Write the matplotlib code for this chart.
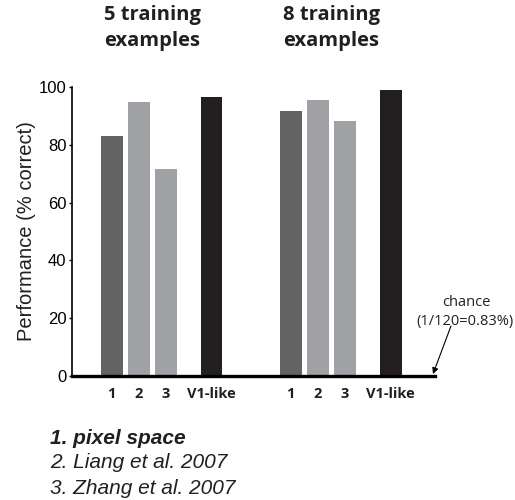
import matplotlib
matplotlib.use("Agg")
import matplotlib.pyplot as plt

groups = ["5 training\nexamples", "8 training\nexamples"]
categories = ["1", "2", "3", "V1-like"]
values_5 = [83.0, 94.8, 71.6, 96.5]
values_8 = [91.7, 95.5, 88.2, 99.0]
colors = ["#636366", "#a0a1a5", "#a0a1a5", "#231f20"]
legend_lines = ["1. pixel space", "2. Liang et al. 2007", "3. Zhang et al. 2007"]
yticks = [0, 20, 40, 60, 80, 100]

W, H = 515, 500
fig = plt.figure(figsize=(W/100, H/100), dpi=100)
ax = fig.add_axes([72/W, 1-376/H, (435-72)/W, (376-87)/H])

offsets = [0, 1, 2, 3.7]
group_starts = [0, 6.63]
xs, labels = [], []
for g, vals in zip(group_starts, [values_5, values_8]):
    for o, v, c, lab in zip(offsets, vals, colors, categories):
        ax.bar(g + o, v, width=0.8, color=c, edgecolor="none")
        xs.append(g + o)
        labels.append(lab)

ax.set_xlim(-1.47, 11.97)
ax.set_ylim(0, 100)
ax.set_xticks(xs)
ax.set_xticklabels(labels, fontfamily="Open Sans", fontweight="bold", fontsize=10.5,
                   color="#231f20")
ax.tick_params(axis="x", length=0, pad=8)
ax.set_yticks(yticks)
ax.set_yticklabels([str(t) for t in yticks], fontfamily="Liberation Sans", fontsize=12)
ax.tick_params(axis="y", length=2.5, width=1, pad=1.5)
ax.set_ylabel("Performance (% correct)", fontfamily="Liberation Sans", fontsize=14.5,
              labelpad=2, color="#231f20")
for s in ["top", "right"]:
    ax.spines[s].set_visible(False)
ax.spines["bottom"].set_linewidth(2.4)
ax.spines["left"].set_linewidth(1.2)

# group titles
title_x = [104, 283]
for tx, title in zip(title_x, groups):
    fig.text(tx/W, 1-5/H, title, ha="left", va="top", multialignment="left",
             fontfamily="Open Sans", fontweight="bold", fontsize=14.5, linespacing=1.4,
             color="#231f20")

# chance annotation
fig.text(466/W, 1-303/H, "chance", ha="center", va="center",
         fontfamily="Open Sans", fontsize=10.5, color="#231f20")
fig.text(465/W, 1-322/H, "(1/120=0.83%)", ha="center", va="center",
         fontfamily="Open Sans", fontsize=10.5, color="#231f20")
ax.annotate("", xy=(433/W, 1-374/H), xycoords="figure fraction",
            xytext=(451/W, 1-326/H), textcoords="figure fraction",
            arrowprops=dict(arrowstyle="-|>", color="black", lw=0.8,
                            shrinkA=0, shrinkB=0, mutation_scale=9))

# legend text
styles = [("bold", "italic"), ("normal", "italic"), ("normal", "italic")]
for i, (line, (w, st)) in enumerate(zip(legend_lines, styles)):
    fig.text(50/W, 1-(438+i*25)/H, line, ha="left", va="center",
             fontfamily="Liberation Sans", fontsize=15, fontweight=w, fontstyle=st,
             color="#231f20")

fig.savefig("out.png", dpi=100)
